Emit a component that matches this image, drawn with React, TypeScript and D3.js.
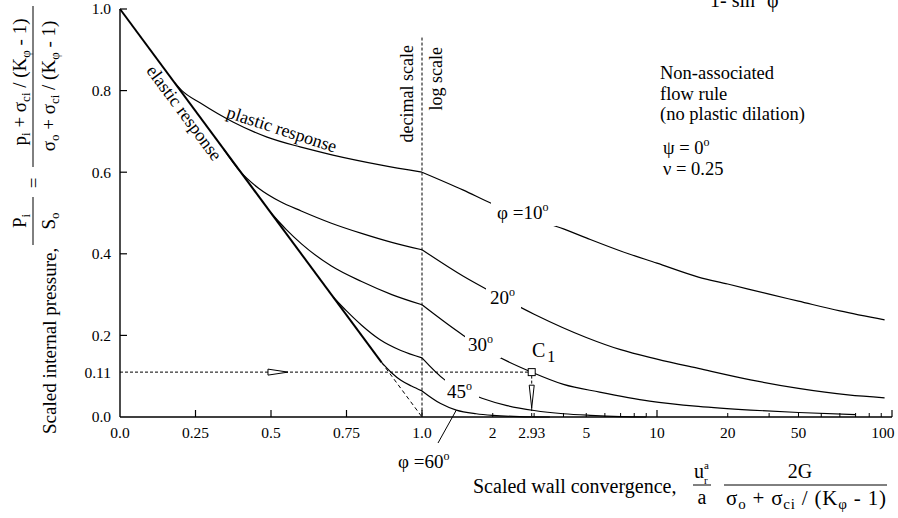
import React from "react";
import * as d3 from "d3";

const W = 898;
const H = 518;
const FONT = "'Liberation Serif', 'Times New Roman', Times, serif";

// x axis: decimal part 0..1, log part 1..100
const decimalTicks = [0.25, 0.5, 0.75, 1.0];
const logMajorTicks = [10, 100];
const logMinorTicks = [2, 3, 4, 5, 6, 7, 8, 9, 20, 30, 40, 50, 60, 70, 80, 90];
const xTickLabels = [
  { text: "0.0", at: 0 },
  { text: "0.25", at: 0.25 },
  { text: "0.5", at: 0.5 },
  { text: "0.75", at: 0.75 },
  { text: "1.0", at: 1 },
  { text: "2", at: 2 },
  { text: "2.93", at: 2.93 },
  { text: "5", at: 5 },
  { text: "10", at: 10 },
  { text: "20", at: 20 },
  { text: "50", at: 40 },
  { text: "100", at: 91.5 },
];
const yTicks = [0.2, 0.4, 0.6, 0.8, 1.0];
const yTickLabels = ["0.0", "0.11", "0.2", "0.4", "0.6", "0.8", "1.0"];

// [scaled convergence, scaled pressure]
const elasticLine = [[0, 1], [0.866, 0.134]];
const elasticDashed = [[0.866, 0.134], [1, 0]];

const phi10 = [
  [0.18, 0.82], [0.205, 0.8], [0.265, 0.77], [0.374, 0.723], [0.487, 0.686],
  [0.596, 0.662], [0.705, 0.642], [0.861, 0.618], [1, 0.6],
  [1.5, 0.556], [2, 0.522], [3, 0.485], [4, 0.461], [5, 0.439], [7, 0.407],
  [10, 0.377], [15, 0.343], [20, 0.326], [30, 0.301], [40, 0.284], [60, 0.26], [93, 0.238],
];
const phi20 = [
  [0.342, 0.658], [0.4, 0.6], [0.46, 0.56], [0.53, 0.528], [0.6, 0.505],
  [0.7, 0.475], [0.8, 0.45], [0.9, 0.428], [1, 0.41],
  [1.5, 0.345], [2, 0.305], [3, 0.252], [5, 0.195], [7, 0.165], [10, 0.142],
  [15, 0.119], [25, 0.091], [40, 0.07], [65, 0.054], [93, 0.047],
];
const phi30 = [
  [0.5, 0.5], [0.55, 0.46], [0.6, 0.425], [0.7, 0.37], [0.8, 0.332], [0.9, 0.3], [1, 0.275],
  [1.5, 0.2], [2, 0.155], [2.93, 0.11], [4, 0.08], [5.7, 0.061], [9.3, 0.039],
  [15, 0.026], [25, 0.017], [40, 0.011], [70, 0.006],
];
const phi45 = [
  [0.707, 0.293], [0.75, 0.26], [0.8, 0.225], [0.86, 0.19], [0.93, 0.163], [1, 0.145],
  [1.25, 0.091], [1.5, 0.065], [1.8, 0.046], [2.3, 0.028], [3, 0.016], [4, 0.008],
  [5.2, 0.004], [7, 0.001], [9, 0],
];
const phi60 = [
  [0.866, 0.134], [0.9, 0.108], [0.93, 0.09], [0.965, 0.076], [1, 0.064],
  [1.2, 0.033], [1.4, 0.017], [1.7, 0.008], [2, 0.004], [2.6, 0.001], [3.5, 0],
];
const curves = [phi10, phi20, phi30, phi45, phi60];

const pointC1 = [2.93, 0.11];
const dividerTop = 0.93;

const xDec = d3.scaleLinear().domain([0, 1]).range([120, 422]);
const xLog = d3.scaleLog().domain([1, 100]).range([422, 892]);
const x = (v: number) => (v <= 1 ? xDec(v) : xLog(v));
const y = d3.scaleLinear().domain([0, 1]).range([417, 9]);

const line = d3
  .line<number[]>()
  .x((d) => x(d[0]))
  .y((d) => y(d[1]))
  .curve(d3.curveMonotoneX);
const straight = d3
  .line<number[]>()
  .x((d) => x(d[0]))
  .y((d) => y(d[1]));

// text with subscripts: parts are [text, isSub]
function rich(parts: [string, boolean][], subSize = 13, shift = 4) {
  let prevSub = false;
  return parts.map(([t, sub], i) => {
    let dy = 0;
    if (sub && !prevSub) dy = shift;
    if (!sub && prevSub) dy = -shift;
    prevSub = sub;
    return (
      <tspan key={i} dy={dy || undefined} fontSize={sub ? subSize : undefined}>
        {t}
      </tspan>
    );
  });
}

const sigmaSum: [string, boolean][] = [
  ["σ", false], ["o", true], [" + σ", false], ["ci", true], [" / (K", false], ["φ", true], [" - 1)", false],
];
const pSum: [string, boolean][] = [
  ["p", false], ["i", true], [" + σ", false], ["ci", true], [" / (K", false], ["φ", true], [" - 1)", false],
];

export default function App() {
  const cx = x(pointC1[0]);
  const cy = y(pointC1[1]);

  // elastic response label, offset below-left of the elastic line
  const ex0 = x(0), ey0 = y(1), ex1 = x(1), ey1 = y(0);
  const len = Math.hypot(ex1 - ex0, ey1 - ey0);
  const ux = (ex1 - ex0) / len, uy = (ey1 - ey0) / len;
  const ang = (Math.atan2(ey1 - ey0, ex1 - ex0) * 180) / Math.PI;
  const t = 0.24 * len;
  const off = 16;
  const elx = ex0 + ux * t - off * uy;
  const ely = ey0 + uy * t + off * ux;

  return (
    <svg
      width={W}
      height={H}
      style={{ position: "absolute", left: 0, top: 0, background: "#fff" }}
      fontFamily={FONT}
    >
      <rect width={W} height={H} fill="#fff" />

      {/* axes */}
      <line x1={x(0)} y1={y(0)} x2={xLog(100)} y2={y(0)} stroke="#000" strokeWidth={1.4} />
      <line x1={x(0)} y1={y(0)} x2={x(0)} y2={y(1)} stroke="#000" strokeWidth={1.4} />
      {decimalTicks.map((v) => (
        <line key={"d" + v} x1={x(v)} x2={x(v)} y1={y(0)} y2={y(0) - 7} stroke="#000" strokeWidth={1.2} />
      ))}
      {logMajorTicks.map((v) => (
        <line key={"M" + v} x1={x(v)} x2={x(v)} y1={y(0)} y2={y(0) - 7} stroke="#000" strokeWidth={1.2} />
      ))}
      {logMinorTicks.map((v) => (
        <line key={"m" + v} x1={x(v)} x2={x(v)} y1={y(0)} y2={y(0) - 4} stroke="#000" strokeWidth={1} />
      ))}
      {yTicks.map((v) => (
        <line key={"y" + v} x1={x(0)} x2={x(0) + 7} y1={y(v)} y2={y(v)} stroke="#000" strokeWidth={1.2} />
      ))}
      <g fontSize={15.5} textAnchor="middle">
        {xTickLabels.map((d) => (
          <text key={d.text} x={x(d.at)} y={438}>{d.text}</text>
        ))}
      </g>
      <g fontSize={15.5} textAnchor="end">
        {yTickLabels.map((s) => (
          <text key={s} x={111} y={y(+s)} dy="0.35em">{s}</text>
        ))}
      </g>

      {/* divider between decimal and log scale */}
      <line x1={x(1)} x2={x(1)} y1={y(dividerTop)} y2={y(0)} stroke="#000" strokeWidth={1} strokeDasharray="3,2" />

      {/* elastic response */}
      <path d={straight(elasticLine) || ""} fill="none" stroke="#000" strokeWidth={2} />
      <path d={straight(elasticDashed) || ""} fill="none" stroke="#000" strokeWidth={1} strokeDasharray="4,3" />

      {/* plastic curves, decimal and log parts drawn separately to keep the kink */}
      {curves.map((c, i) => (
        <g key={i} fill="none" stroke="#000" strokeWidth={1.2}>
          <path d={line(c.filter((d) => d[0] <= 1)) || ""} />
          <path d={line(c.filter((d) => d[0] >= 1)) || ""} />
        </g>
      ))}

      {/* design point C1 */}
      <line x1={x(0)} x2={cx - 3.5} y1={cy} y2={cy} stroke="#000" strokeWidth={1} strokeDasharray="3,2" />
      <path
        d={`M${xDec(0.49)},${cy - 3}L${xDec(0.49)},${cy + 3}L${xDec(0.49) + 20},${cy}Z`}
        fill="#fff"
        stroke="#000"
        strokeWidth={1}
      />
      <line x1={cx} x2={cx} y1={cy + 3.5} y2={y(0.078)} stroke="#000" strokeWidth={1} strokeDasharray="3,2" />
      <line x1={cx} x2={cx} y1={y(0.022)} y2={y(0)} stroke="#000" strokeWidth={1} strokeDasharray="3,2" />
      <path
        d={`M${cx - 2.5},${y(0.078)}L${cx + 2.5},${y(0.078)}L${cx},${y(0.022)}Z`}
        fill="#fff"
        stroke="#000"
        strokeWidth={1}
      />
      <rect x={cx - 3.5} y={cy - 3.5} width={7} height={7} fill="#fff" stroke="#000" strokeWidth={1} />

      {/* curve labels with white gaps */}
      <g fontSize={19}>
        <rect x={491} y={200} width={65} height={26} fill="#fff" />
        <text x={497} y={219}>φ =10<tspan dy={-8} fontSize={12}>o</tspan></text>
        <rect x={486} y={284} width={35} height={25} fill="#fff" />
        <text x={490} y={304}>20<tspan dy={-8} fontSize={12}>o</tspan></text>
        <rect x={465} y={330} width={36} height={28} fill="#fff" />
        <text x={468} y={351}>30<tspan dy={-8} fontSize={12}>o</tspan></text>
        <rect x={445} y={377} width={34} height={24} fill="#fff" />
        <text x={447} y={398}>45<tspan dy={-8} fontSize={12}>o</tspan></text>
        <text x={532} y={357} fontSize={20}>C<tspan dx={2} dy={5} fontSize={16}>1</tspan></text>
        <text x={398} y={468}>φ =60<tspan dy={-8} fontSize={12}>o</tspan></text>
      </g>
      <line x1={438} y1={443} x2={x(1.4)} y2={y(0.017)} stroke="#000" strokeWidth={1} />

      {/* response labels */}
      <text
        fontSize={18}
        textAnchor="middle"
        transform={`translate(${elx},${ely}) rotate(${ang})`}
      >
        elastic response
      </text>
      <text fontSize={18} textAnchor="middle" transform="translate(280,135) rotate(18)">
        plastic response
      </text>

      {/* scale labels */}
      <g transform="rotate(-90)" fontSize={18} textAnchor="end">
        <text x={-45} y={413}>decimal scale</text>
        <text x={-47} y={442}>log scale</text>
      </g>

      {/* notes */}
      <g fontSize={18.5}>
        <text x={660} y={79}>Non-associated</text>
        <text x={660} y={99.5}>flow rule</text>
        <text x={660} y={120}>(no plastic dilation)</text>
        <text x={663} y={154}>ψ = 0<tspan dy={-8} fontSize={12}>o</tspan></text>
        <text x={663} y={175}>ν = 0.25</text>
      </g>
      <g fontSize={20}>
        <text x={710} y={7}>1- sin</text>
        <text x={767} y={7}>φ</text>
      </g>

      {/* y axis title */}
      <g transform="rotate(-90)" fontSize={19}>
        <text x={-434} y={56}>Scaled internal pressure,</text>
        <text x={-221} y={26} textAnchor="middle">{rich([["P", false], ["i", true]])}</text>
        <line x1={-245} x2={-197} y1={33} y2={33} stroke="#000" strokeWidth={1} />
        <text x={-221} y={55} textAnchor="middle">{rich([["S", false], ["o", true]])}</text>
        <text x={-183} y={40} textAnchor="middle">=</text>
        <text x={-82} y={26} textAnchor="middle">{rich(pSum)}</text>
        <line x1={-167} x2={-6} y1={33} y2={33} stroke="#000" strokeWidth={1} />
        <text x={-86} y={55} textAnchor="middle">{rich(sigmaSum)}</text>
      </g>

      {/* x axis title */}
      <g fontSize={20}>
        <text x={473} y={493}>Scaled wall convergence,</text>
        <text x={694} y={478}>u</text>
        <text x={704} y={469} fontSize={11}>a</text>
        <text x={704} y={484} fontSize={11}>r</text>
        <line x1={693} x2={711} y1={485} y2={485} stroke="#000" strokeWidth={1} />
        <text x={702} y={504} textAnchor="middle">a</text>
        <text x={800} y={478} textAnchor="middle">2G</text>
        <line x1={724} x2={887} y1={485} y2={485} stroke="#000" strokeWidth={1} />
        <text x={726} y={505} fontSize={21} textLength={160} lengthAdjust="spacing">
          {rich(sigmaSum, 15)}
        </text>
      </g>
    </svg>
  );
}
